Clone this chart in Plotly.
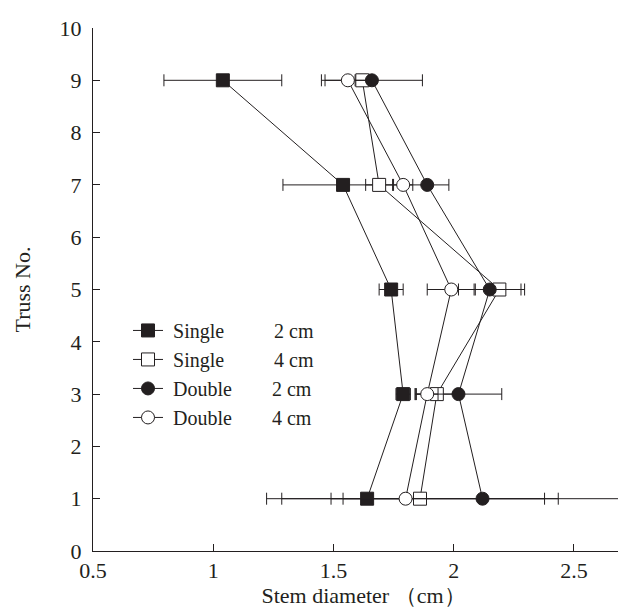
import plotly.graph_objects as go

# ---- data ----
truss = [1, 3, 5, 7, 9]

single_2cm_x = [1.64, 1.79, 1.74, 1.54, 1.04]
single_2cm_err = [0.15, 0.03, 0.05, 0.25, 0.245]

single_4cm_x = [1.86, 1.93, 2.19, 1.69, 1.62]
single_4cm_err = [0.575, 0.09, 0.105, 0.056, 0.03]

double_2cm_x = [2.12, 2.02, 2.15, 1.89, 1.66]
double_2cm_err = [0.58, 0.18, 0.13, 0.09, 0.21]

double_4cm_x = [1.80, 1.89, 1.99, 1.79, 1.56]
double_4cm_err = [0.578, 0.045, 0.10, 0.04, 0.095]

NB = "\u00a0"
legend_labels = [
    NB + "Single" + NB * 10 + "2 cm",
    NB + "Single" + NB * 10 + "4 cm",
    NB + "Double" + NB * 8 + "2 cm",
    NB + "Double" + NB * 8 + "4 cm",
]

x_ticks = [0.5, 1, 1.5, 2, 2.5]
y_ticks = list(range(0, 11))

INK = "#231f20"
FONT = "Liberation Serif, DejaVu Serif, serif"

series = [
    (legend_labels[0], single_2cm_x, single_2cm_err, "square", INK),
    (legend_labels[1], single_4cm_x, single_4cm_err, "square", "white"),
    (legend_labels[2], double_2cm_x, double_2cm_err, "circle", INK),
    (legend_labels[3], double_4cm_x, double_4cm_err, "circle", "white"),
]

fig = go.Figure()
for name, xs, errs, sym, fill in series:
    fig.add_trace(go.Scatter(
        x=xs, y=truss, name=name, mode="lines+markers",
        line=dict(color=INK, width=1),
        marker=dict(symbol=sym, size=13, color=fill, line=dict(color=INK, width=1)),
        error_x=dict(type="data", array=errs, visible=True, color=INK, thickness=1, width=6),
    ))

fig.update_layout(
    width=626, height=611,
    margin=dict(l=85, r=0, t=20, b=68),
    paper_bgcolor="white", plot_bgcolor="white",
    font=dict(family=FONT, size=22, color=INK),
    showlegend=True,
    legend=dict(
        x=0.0647, y=0.459, xanchor="left", yanchor="top",
        bgcolor="rgba(0,0,0,0)", font=dict(family=FONT, size=20, color=INK),
        tracegroupgap=0,
    ),
)

fig.update_xaxes(
    range=[0.5, 2.75], tickvals=x_ticks, automargin=False,
    showgrid=False, zeroline=False,
    showline=True, linecolor=INK, linewidth=1,
    ticks="inside", ticklen=7, tickcolor=INK, tickwidth=1,
    tickfont=dict(family=FONT, size=22, color=INK),
    title=dict(text="Stem diameter \uff08cm\uff09", font=dict(family=FONT, size=22, color=INK), standoff=4),
)
fig.update_yaxes(
    range=[0, 10], tickvals=y_ticks, automargin=False,
    showgrid=False, zeroline=False,
    showline=True, linecolor=INK, linewidth=1,
    ticks="inside", ticklen=7, tickcolor=INK, tickwidth=1,
    tickfont=dict(family=FONT, size=22, color=INK),
    ticklabelstandoff=6,
    title=dict(text="Truss No.", font=dict(family=FONT, size=22, color=INK), standoff=22),
)

fig.write_html("out.html")
